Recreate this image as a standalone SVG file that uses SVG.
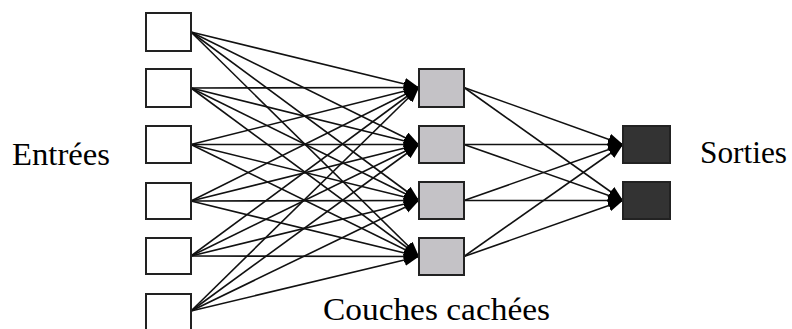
<svg xmlns="http://www.w3.org/2000/svg" width="792" height="329" viewBox="0 0 792 329">
<style>
.in{fill:#fff;stroke:#222;stroke-width:2}
.hid{fill:#c4c2c6;stroke:#222;stroke-width:2}
.out{fill:#333;stroke:#222;stroke-width:2}
.c line{stroke:#111;stroke-width:1.6;marker-end:url(#ah)}
text{font-family:"Liberation Serif","Times New Roman",serif;font-size:31px;fill:#000}
</style>
<defs>
<marker id="ah" markerUnits="userSpaceOnUse" markerWidth="16" markerHeight="13" refX="15" refY="6" orient="auto">
<path d="M0,0 L15,6 L0,12 Z" fill="#000"/>
</marker>
</defs>
<g class="c" id="connectors">
<line x1="191" y1="32" x2="419" y2="87.5"/>
<line x1="191" y1="32" x2="419" y2="144.5"/>
<line x1="191" y1="32" x2="419" y2="200.5"/>
<line x1="191" y1="32" x2="419" y2="256.5"/>
<line x1="191" y1="88" x2="419" y2="87.5"/>
<line x1="191" y1="88" x2="419" y2="144.5"/>
<line x1="191" y1="88" x2="419" y2="200.5"/>
<line x1="191" y1="88" x2="419" y2="256.5"/>
<line x1="191" y1="144.5" x2="419" y2="87.5"/>
<line x1="191" y1="144.5" x2="419" y2="144.5"/>
<line x1="191" y1="144.5" x2="419" y2="200.5"/>
<line x1="191" y1="144.5" x2="419" y2="256.5"/>
<line x1="191" y1="201" x2="419" y2="87.5"/>
<line x1="191" y1="201" x2="419" y2="144.5"/>
<line x1="191" y1="201" x2="419" y2="200.5"/>
<line x1="191" y1="201" x2="419" y2="256.5"/>
<line x1="191" y1="256" x2="419" y2="87.5"/>
<line x1="191" y1="256" x2="419" y2="144.5"/>
<line x1="191" y1="256" x2="419" y2="200.5"/>
<line x1="191" y1="256" x2="419" y2="256.5"/>
<line x1="191" y1="311" x2="419" y2="87.5"/>
<line x1="191" y1="311" x2="419" y2="144.5"/>
<line x1="191" y1="311" x2="419" y2="200.5"/>
<line x1="191" y1="311" x2="419" y2="256.5"/>
<line x1="464" y1="87.5" x2="623" y2="144.5"/>
<line x1="464" y1="87.5" x2="623" y2="200.5"/>
<line x1="464" y1="144.5" x2="623" y2="144.5"/>
<line x1="464" y1="144.5" x2="623" y2="200.5"/>
<line x1="464" y1="200.5" x2="623" y2="144.5"/>
<line x1="464" y1="200.5" x2="623" y2="200.5"/>
<line x1="464" y1="256.5" x2="623" y2="144.5"/>
<line x1="464" y1="256.5" x2="623" y2="200.5"/>
</g>
<g id="in1"><rect class="in" x="146" y="13" width="45" height="38"/></g>
<g id="in2"><rect class="in" x="146" y="69" width="45" height="38"/></g>
<g id="in3"><rect class="in" x="146" y="126" width="45" height="37"/></g>
<g id="in4"><rect class="in" x="146" y="183" width="45" height="36"/></g>
<g id="in5"><rect class="in" x="146" y="238" width="45" height="36"/></g>
<g id="in6"><rect class="in" x="146" y="294" width="45" height="36"/></g>
<g id="h1"><rect class="hid" x="419" y="69" width="45" height="38"/></g>
<g id="h2"><rect class="hid" x="419" y="126" width="45" height="37"/></g>
<g id="h3"><rect class="hid" x="419" y="182" width="45" height="37"/></g>
<g id="h4"><rect class="hid" x="419" y="238" width="45" height="37"/></g>
<g id="o1"><rect class="out" x="623" y="126" width="47" height="37"/></g>
<g id="o2"><rect class="out" x="623" y="182" width="47" height="37"/></g>
<text x="12" y="165" textLength="98" lengthAdjust="spacingAndGlyphs">Entrées</text>
<text x="700" y="163" textLength="87" lengthAdjust="spacingAndGlyphs">Sorties</text>
<text x="323" y="320" textLength="227" lengthAdjust="spacingAndGlyphs">Couches cachées</text>
</svg>
